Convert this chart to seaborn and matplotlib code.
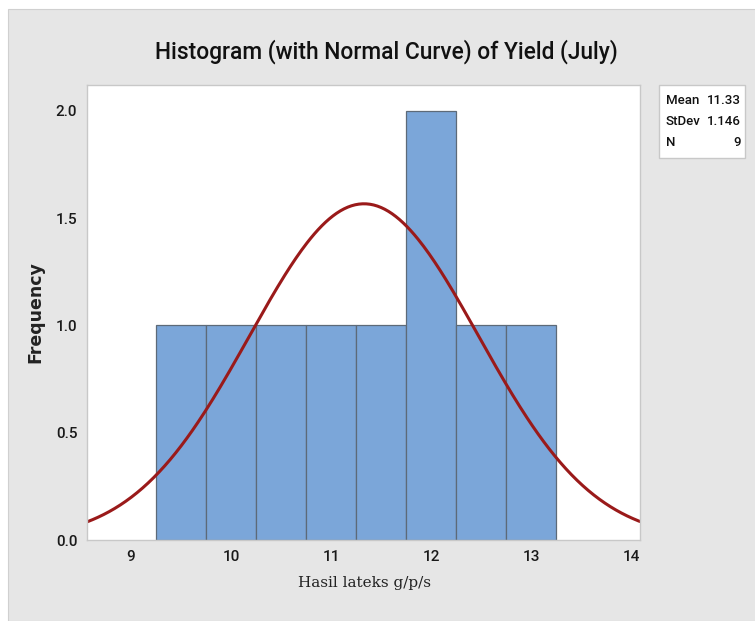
import numpy as np
import pandas as pd
import matplotlib.pyplot as plt
import seaborn as sns
from matplotlib.patches import Rectangle

# yield values (July), read so that the bins give 1,1,1,1,1,2,1,1
yield_july = [9.7, 10.2, 10.6, 11.0, 11.5, 11.9, 12.1, 12.5, 12.8]
bin_edges = [9.25, 9.75, 10.25, 10.75, 11.25, 11.75, 12.25, 12.75, 13.25]
mean_val = 11.33
sd_val = 1.146
n_val = 9
x_ticks = [9, 10, 11, 12, 13, 14]
y_ticks = [0.0, 0.5, 1.0, 1.5, 2.0]

sns.set_style("white")
plt.rcParams["font.family"] = ["Roboto", "DejaVu Sans"]

fig = plt.figure(figsize=(7.55, 6.21), dpi=100, facecolor="white")
# grey panel behind everything
fig.patches.append(Rectangle((8 / 755, 0), 1, (621 - 9) / 621, transform=fig.transFigure,
                             facecolor="#e6e6e6", edgecolor="#d0d0d0", lw=0.8, zorder=-1))

ax = fig.add_axes([87 / 755, (621 - 540) / 621, 553 / 755, 455 / 621])
df = pd.DataFrame({"yield": yield_july})
sns.histplot(data=df, x="yield", bins=bin_edges, stat="count", color="#7ba6d9",
             edgecolor="#5d6a78", linewidth=0.9, alpha=1, ax=ax)

xs = np.linspace(8.56, 14.09, 300)
binw = bin_edges[1] - bin_edges[0]
ys = n_val * binw / (sd_val * np.sqrt(2 * np.pi)) * np.exp(-0.5 * ((xs - mean_val) / sd_val) ** 2)
sns.lineplot(x=xs, y=ys, color="#9a1a1a", linewidth=2.2, ax=ax)

ax.set_xlim(8.56, 14.09)
ax.set_ylim(0, 2.12)
ax.set_xticks(x_ticks)
ax.set_yticks(y_ticks)
ax.set_yticklabels([f"{v:.1f}" for v in y_ticks])
ax.tick_params(axis="both", length=4, width=0.8, color="#b0b0b0", labelsize=11,
               labelcolor="#1a1a1a", pad=3)
for lbl in ax.get_xticklabels() + ax.get_yticklabels():
    lbl.set_fontweight("medium")
for s in ax.spines.values():
    s.set_color("#c8c8c8")
    s.set_linewidth(1)
ax.set_xlabel("")
ax.set_ylabel("")

fig.text(386 / 755, 1 - 52 / 621, "Histogram (with Normal Curve) of Yield (July)",
         ha="center", va="center", fontsize=16.4, fontweight="medium", color="#111111")
fig.text(35 / 755, 1 - 312 / 621, "Frequency", rotation=90, ha="center", va="center",
         fontsize=12.5, fontweight="bold", family="DejaVu Sans", color="#222222")
fig.text(364 / 755, 1 - 583 / 621, "Hasil lateks g/p/s", ha="center", va="center",
         fontsize=11, family="DejaVu Serif", color="#222222")

# stats box
fig.patches.append(Rectangle((659 / 755, 1 - 158 / 621), 86 / 755, 73 / 621,
                             transform=fig.transFigure, facecolor="white",
                             edgecolor="#c8c8c8", lw=1))
rows = [("Mean", "11.33"), ("StDev", "1.146"), ("N", str(n_val))]
for i, (k, v) in enumerate(rows):
    yy = 1 - (101 + i * 20.5) / 621
    fig.text(666 / 755, yy, k, ha="left", va="center", fontsize=9.5, fontweight="medium",
             color="#111111")
    fig.text(741 / 755, yy, v, ha="right", va="center", fontsize=9.5, fontweight="medium",
             color="#111111")

fig.savefig("out.png", dpi=100)
